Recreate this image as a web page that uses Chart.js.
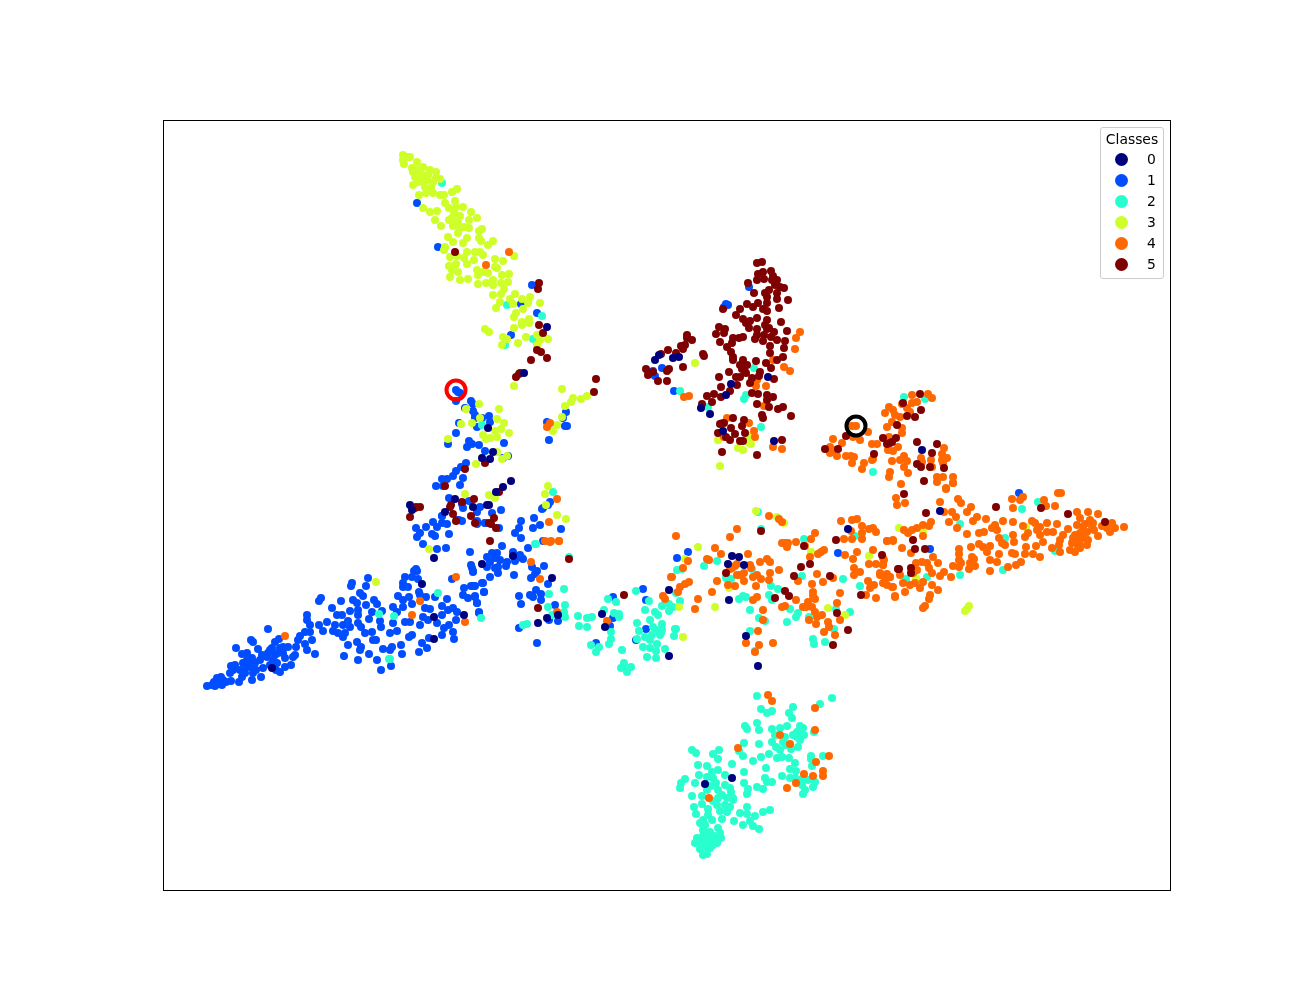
<!DOCTYPE html>
<html>
<head>
<meta charset="utf-8">
<title>Classes scatter</title>
<script src="https://cdn.jsdelivr.net/npm/chart.js@4/dist/chart.umd.min.js"></script>
<style>
    body { margin: 0; background: #fff; font-family: "DejaVu Sans", sans-serif; }
    #wrap { position: relative; width: 1300px; height: 1000px; }
    #legend {
        position: absolute; left: 1100px; top: 127px; width: 62px; height: 150px;
        background: rgba(255, 255, 255, 0.8); border: 1px solid #ccc; border-radius: 3px;
        font-size: 13.9px; color: #000;
    }
    #legend .title { position: absolute; left: 0; width: 100%; top: 3px; text-align: center; }
    #legend .row { position: absolute; left: 0; width: 100%; height: 21px; line-height: 21px; }
    #legend .dot { position: absolute; left: 14px; top: 4px; width: 13px; height: 13px; border-radius: 50%; }
    #legend .lab { position: absolute; left: 46px; top: 0; }
</style>
</head>
<body>
<div id="wrap">
    <canvas id="chart" width="1300" height="1000"></canvas>
    <div id="legend"><div class="title">Classes</div></div>
</div>
<script>
// Values, one list of [x, y] per class
const class0 = [[422,584],[434,617],[464,615],[434,639],[272,668],[434,558],[482,564],[410,505],[412,510],[473,507],[445,512],[487,505],[524,373],[488,428],[493,452],[482,458],[490,459],[511,481],[503,487],[496,492],[455,499],[489,505],[513,556],[552,578],[538,623],[547,618],[558,615],[602,614],[605,627],[669,590],[669,656],[547,327],[659,355],[655,360],[673,358],[679,357],[768,377],[731,384],[726,395],[701,408],[710,414],[723,431],[774,441],[922,450],[940,511],[848,529],[732,556],[739,557],[728,564],[744,565],[729,600],[746,636],[758,666],[705,784],[732,778]];

const class1 = [[207,686],[212,685],[214,682],[217,678],[221,677],[223,680],[222,685],[215,686],[218,683],[231,681],[230,673],[231,666],[235,665],[233,670],[239,682],[242,677],[240,670],[245,673],[252,680],[253,673],[261,677],[243,663],[247,660],[242,654],[247,653],[252,658],[236,648],[253,642],[251,640],[258,649],[255,663],[260,660],[263,668],[267,657],[270,650],[272,648],[268,653],[275,642],[279,639],[268,629],[283,647],[288,647],[278,653],[283,653],[273,660],[277,663],[285,658],[291,665],[280,672],[276,670],[285,667],[296,647],[295,655],[293,657],[300,636],[298,640],[305,644],[307,650],[315,654],[312,640],[310,632],[305,632],[310,625],[307,620],[307,615],[319,625],[323,631],[327,622],[332,608],[337,615],[342,615],[335,625],[343,625],[348,621],[350,611],[358,610],[358,615],[369,619],[358,623],[350,627],[361,627],[333,631],[338,633],[343,637],[345,633],[348,645],[357,642],[361,647],[360,650],[344,656],[358,660],[369,654],[377,660],[383,649],[390,650],[392,647],[401,645],[402,654],[391,666],[381,670],[419,652],[422,643],[427,648],[429,638],[442,635],[444,628],[449,625],[453,632],[454,639],[409,637],[412,635],[390,633],[397,631],[393,623],[405,622],[410,622],[420,625],[423,617],[428,620],[437,623],[442,615],[448,610],[453,608],[457,612],[456,620],[425,608],[430,609],[442,606],[447,599],[435,597],[426,597],[419,592],[420,595],[409,597],[403,600],[398,596],[403,607],[412,604],[393,607],[397,612],[382,611],[380,621],[381,627],[372,632],[365,633],[373,640],[376,640],[341,601],[353,600],[357,603],[321,598],[319,601],[352,583],[351,586],[366,586],[368,578],[360,593],[363,596],[374,600],[377,604],[366,605],[372,612],[403,583],[405,577],[412,577],[417,571],[414,571],[418,579],[403,587],[408,587],[452,579],[464,588],[463,595],[468,598],[473,586],[475,586],[483,583],[484,592],[475,596],[477,603],[479,613],[471,565],[473,571],[470,552],[446,548],[437,549],[433,522],[426,527],[416,528],[420,533],[417,537],[432,534],[435,536],[449,534],[423,544],[437,527],[442,523],[447,524],[442,516],[457,520],[462,521],[477,523],[485,523],[248,663],[250,667],[256,670],[246,667],[262,655],[275,655],[280,648],[270,665],[217,684],[226,682],
[456,390],[458,392],[460,393],[456,401],[471,401],[473,404],[465,408],[473,411],[475,415],[475,418],[482,418],[489,416],[490,422],[477,427],[459,423],[456,433],[448,444],[469,441],[472,444],[467,447],[479,445],[504,443],[485,451],[503,458],[508,456],[466,463],[461,467],[456,471],[453,476],[463,478],[442,479],[447,479],[436,486],[443,486],[460,485],[449,498],[469,501],[462,504],[480,507],[477,512],[463,508],[501,510],[492,513],[442,516],[459,520],[477,521],[477,524],[485,523],[499,528],[521,521],[519,528],[515,533],[521,538],[534,518],[533,528],[540,525],[561,529],[528,548],[543,541],[502,546],[513,552],[487,557],[492,553],[497,553],[495,558],[500,560],[490,562],[507,562],[515,561],[523,559],[487,567],[498,567],[532,567],[544,566],[416,569],[566,412],[563,418],[547,422],[565,426],[567,426],[549,440],[550,502],[548,505],[543,508],[542,509],
[520,555],[522,558],[498,573],[490,577],[506,566],[514,575],[495,568],[537,571],[535,574],[531,578],[548,584],[473,572],[472,568],[482,583],[474,586],[471,586],[484,592],[475,597],[477,603],[479,612],[519,596],[521,604],[536,590],[530,595],[533,597],[541,594],[541,600],[555,605],[549,620],[558,621],[519,628],[537,643],[677,558],[688,552],[643,589],[613,597],[646,600],[646,629],[596,643],[613,618],[610,626],[636,640],[417,203],[438,247],[532,285],[521,304],[537,313],[511,335],[749,287],[726,304],[724,307],[728,305],[653,371],[662,368],[655,376],[674,391],[838,553],[1019,493],[930,549]];

const class2 = [[757,696],[832,698],[820,704],[761,709],[767,713],[772,711],[793,707],[789,713],[792,718],[745,726],[747,729],[757,723],[759,730],[772,729],[780,728],[787,726],[800,726],[803,728],[797,732],[814,732],[775,735],[785,737],[797,737],[804,735],[800,740],[744,743],[759,744],[772,742],[776,747],[798,747],[692,750],[696,753],[719,750],[713,754],[718,759],[739,751],[743,756],[761,757],[769,754],[753,761],[780,750],[782,757],[777,758],[789,758],[811,756],[811,759],[823,756],[795,763],[812,766],[698,765],[707,766],[732,764],[718,770],[766,768],[790,769],[796,771],[712,772],[699,775],[707,777],[713,778],[725,775],[744,772],[782,776],[765,778],[790,778],[795,778],[802,779],[808,780],[685,779],[681,783],[695,783],[680,788],[725,785],[730,788],[744,783],[772,782],[767,782],[757,787],[763,789],[748,789],[747,794],[815,782],[813,787],[802,785],[805,790],[803,794],[718,790],[731,792],[692,796],[702,796],[733,798],[727,798],[713,801],[733,800],[702,804],[725,805],[717,805],[694,807],[747,807],[708,809],[730,807],[720,811],[727,812],[696,814],[770,810],[763,812],[740,813],[747,814],[708,815],[755,816],[722,819],[734,821],[703,820],[700,823],[705,825],[703,830],[743,825],[750,821],[753,826],[759,829],[718,828],[710,832],[720,833],[721,838],[697,838],[712,842],[717,843],[695,843],[702,842],[705,847],[710,848],[700,849],[703,855],[707,854],[713,845],[708,838],[703,836],[714,836],[700,844],[708,844],[712,820],[718,798],[722,795],[711,786],[716,783],[707,790],[786,745],[791,749],[783,742],[793,735],[801,733],
[536,544],[569,557],[481,618],[523,625],[527,624],[549,594],[564,589],[548,607],[565,605],[564,612],[565,617],[552,615],[578,616],[587,618],[592,617],[579,626],[587,627],[608,599],[616,602],[604,610],[614,613],[619,614],[619,617],[611,632],[611,639],[609,644],[599,647],[591,645],[596,652],[622,650],[624,663],[631,667],[621,668],[627,672],[623,667],[636,591],[649,601],[645,610],[655,612],[658,615],[650,620],[637,623],[662,624],[639,631],[653,627],[657,630],[662,630],[652,635],[660,635],[645,637],[650,640],[637,639],[675,629],[674,636],[643,647],[650,648],[657,644],[656,651],[665,649],[647,657],[656,658],[662,606],[669,611],[669,604],[673,607],[676,593],[680,601],[677,570],[682,569],
[758,512],[761,529],[804,539],[855,536],[717,561],[704,566],[726,578],[731,579],[752,569],[802,576],[843,579],[860,586],[771,586],[778,589],[739,599],[743,596],[746,597],[769,595],[772,600],[790,609],[750,610],[798,613],[796,617],[759,618],[765,621],[809,617],[787,622],[836,609],[850,612],[676,629],[661,633],[750,631],[813,639],[814,644],[825,642],[834,629],[755,651],[904,397],[925,399],[873,472],[1022,509],[1038,502],[960,524],[1005,538],[1055,551],[1003,570],[906,579],[927,577],[960,575],[442,183],[507,305],[542,316],[533,339],[505,345],[754,368],[680,391],[746,395],[744,399],[708,407],[761,427],[379,614],[394,616],[438,593],[389,659],[390,659],[482,425],[553,492],[535,544]];

const class3 = [[403,155],[407,157],[410,157],[403,160],[404,164],[417,162],[413,172],[418,170],[423,167],[430,170],[436,172],[415,177],[422,175],[428,175],[413,185],[423,182],[433,182],[425,187],[440,179],[419,195],[433,193],[440,195],[444,195],[457,189],[452,192],[423,208],[430,212],[437,211],[445,203],[455,201],[449,208],[463,207],[454,213],[471,212],[449,220],[460,216],[435,220],[441,226],[469,220],[477,218],[453,226],[458,222],[460,228],[464,227],[469,228],[482,229],[479,231],[448,237],[453,242],[458,233],[467,238],[463,243],[479,238],[481,241],[493,241],[488,245],[445,247],[444,250],[467,252],[450,257],[457,256],[464,258],[475,252],[480,252],[483,255],[474,260],[495,259],[503,261],[514,256],[449,266],[456,264],[452,270],[467,264],[458,272],[477,270],[478,275],[450,277],[460,280],[468,279],[483,272],[495,267],[488,273],[502,275],[509,274],[478,284],[486,283],[493,280],[508,282],[493,285],[504,289],[501,294],[493,295],[515,294],[510,299],[522,299],[530,297],[500,302],[496,308],[513,304],[528,303],[540,303],[523,309],[516,313],[514,317],[522,322],[522,325],[529,319],[529,323],[514,328],[485,329],[489,332],[503,337],[507,339],[526,337],[548,339],[502,345],[518,343],[537,335],[540,340],[537,345],[538,350],[412,168],[420,180],[427,180],[436,178],[418,182],[426,193],[431,188],[456,207],[452,218],[497,268],[501,283],
[514,386],[562,389],[573,398],[571,402],[565,406],[581,399],[587,396],[557,425],[553,431],[562,417],[479,404],[466,409],[499,409],[480,418],[497,419],[504,423],[472,423],[461,424],[495,431],[501,429],[509,433],[483,435],[486,439],[490,438],[497,437],[448,439],[497,452],[502,459],[507,456],[476,464],[465,494],[489,495],[495,498],[548,486],[545,494],[546,505],[557,515],[566,519],[429,549],[376,582],[685,559],[698,547],[679,607],[683,637],[695,363],[749,436],[718,440],[749,443],[751,444],[738,448],[743,450],[720,466],[756,511],[777,517],[784,523],[729,588],[715,607],[811,552],[828,608],[845,615],[869,556],[899,528],[923,531],[1026,527],[916,578],[969,606],[967,609],[965,611]];

const class4 = [[676,536],[730,537],[737,529],[769,516],[782,522],[779,519],[715,548],[721,554],[707,559],[709,560],[688,561],[683,568],[672,577],[689,582],[685,584],[680,587],[678,592],[663,596],[665,599],[698,599],[695,609],[712,592],[717,581],[728,585],[735,586],[730,569],[732,568],[737,564],[735,566],[748,554],[760,562],[767,559],[770,562],[750,565],[751,568],[737,575],[740,575],[744,573],[744,581],[753,577],[757,575],[761,579],[756,586],[770,573],[779,570],[769,580],[798,581],[812,584],[817,574],[823,582],[833,578],[757,597],[753,600],[763,610],[763,620],[758,631],[759,645],[746,643],[755,652],[773,643],[782,607],[785,606],[796,600],[803,607],[806,607],[808,602],[813,592],[813,596],[815,599],[812,607],[815,612],[822,615],[817,617],[809,620],[816,624],[828,622],[829,627],[824,632],[835,635],[840,620],[837,603],[840,593],[782,543],[785,543],[788,543],[787,547],[796,542],[805,546],[811,539],[815,533],[810,557],[818,554],[821,552],[824,550],[841,521],[852,520],[857,519],[851,531],[862,526],[862,533],[869,529],[873,528],[876,532],[844,539],[852,539],[862,539],[887,541],[893,541],[845,555],[857,552],[853,559],[873,550],[883,558],[869,564],[876,564],[883,565],[854,568],[860,572],[854,575],[880,573],[887,574],[890,577],[900,575],[868,581],[874,585],[870,588],[883,583],[887,585],[893,587],[866,595],[876,598],[895,597],
[901,484],[896,498],[905,503],[897,505],[940,502],[946,489],[953,483],[958,499],[961,503],[952,512],[944,512],[956,517],[971,507],[967,512],[977,517],[973,521],[986,519],[949,522],[957,528],[967,534],[979,533],[984,532],[995,525],[992,528],[997,530],[1003,521],[1013,522],[1012,499],[1013,508],[1020,500],[1023,497],[1044,500],[1046,506],[1055,506],[1058,493],[1061,493],[1032,521],[1023,526],[1035,523],[1040,527],[1047,523],[1057,524],[1068,529],[1077,512],[1080,518],[1088,512],[1098,514],[1090,520],[1077,525],[1083,527],[1093,523],[1112,523],[1124,527],[1107,528],[1115,528],[1110,532],[1098,536],[1094,530],[1087,532],[1080,533],[1075,535],[1088,540],[1083,538],[1077,540],[1072,543],[1080,545],[1087,545],[1070,550],[1075,552],[1080,548],[1060,540],[1063,535],[1053,532],[1047,532],[1037,530],[1040,535],[1043,542],[1025,537],[1028,533],[1036,546],[1026,547],[1025,554],[1033,554],[1040,557],[1052,548],[1059,545],[1060,552],[1013,535],[1014,542],[999,538],[1002,543],[1005,545],[979,544],[983,547],[990,546],[987,552],[999,554],[990,560],[997,562],[1012,553],[1015,554],[1021,562],[1016,565],[1008,567],[990,571],[971,547],[959,549],[959,554],[959,560],[972,557],[974,559],[970,563],[975,566],[969,569],[953,566],[959,567],[961,563],[951,577],[940,576],[944,572],[938,563],[933,557],[931,522],[929,526],[923,525],[917,528],[912,530],[908,533],[904,530],[923,536],[887,541],[893,540],[902,548],[911,553],[916,563],[922,562],[927,563],[929,568],[932,573],[932,585],[938,590],[930,595],[929,599],[925,606],[923,608],[895,596],[903,583],[905,592],[910,585],[915,583],[920,588],[923,582],[913,573],[917,570],[885,577],[890,577],[885,583],[892,587],[880,575],[884,560],[883,565],[1085,524],[1092,527],[1102,526],[1073,538],[1084,533],[1078,546],
[912,395],[932,398],[928,394],[902,404],[912,403],[907,408],[917,402],[889,407],[893,410],[885,413],[895,415],[900,417],[910,412],[892,422],[887,427],[902,428],[902,433],[856,426],[852,426],[868,432],[853,437],[860,440],[833,439],[842,443],[830,447],[833,450],[830,453],[837,456],[846,456],[851,456],[854,457],[852,463],[862,469],[864,463],[872,460],[873,459],[872,444],[877,444],[889,437],[888,450],[893,451],[898,447],[892,461],[900,460],[904,456],[907,461],[904,467],[908,473],[890,472],[889,477],[921,458],[922,462],[931,460],[932,467],[944,448],[942,454],[947,458],[942,460],[943,463],[937,477],[943,477],[937,482],[953,477],[953,483],[946,488],
[800,332],[796,338],[795,349],[773,360],[784,367],[790,371],[757,380],[756,386],[766,386],[764,406],[684,397],[689,396],[727,418],[749,423],[722,423],[754,431],[755,437],[724,437],[773,447],[782,449],[531,562],[540,579],[557,612],[607,621],[671,577],[550,542],[559,541],[547,427],[550,423],[557,499],[549,522],[545,541],[551,541],[559,541],[285,636],[456,577],[420,601],[412,615],[465,622],[509,252],[486,265],[768,695],[772,701],[815,708],[815,730],[780,735],[790,744],[738,748],[816,762],[829,756],[823,771],[823,776],[813,776],[804,774],[796,783],[787,788],[709,798]];

const class5 = [[539,283],[538,289],[455,252],[539,325],[543,333],[537,350],[541,352],[547,358],[531,360],[520,373],[516,377],[596,379],[594,392],[519,374],[485,463],[465,469],[499,492],[445,486],[416,507],[420,507],[410,517],[451,505],[450,507],[453,514],[474,499],[462,502],[471,516],[494,518],[475,523],[491,524],[496,528],[490,541],[569,559],[415,508],[456,521],[489,523],[538,608],[624,595],
[757,263],[762,262],[758,274],[763,272],[771,271],[773,276],[757,280],[764,279],[772,280],[777,280],[748,283],[775,285],[780,287],[784,288],[769,290],[765,293],[777,293],[754,293],[767,297],[777,299],[788,300],[758,303],[747,304],[753,307],[767,303],[779,308],[763,309],[767,311],[740,309],[736,315],[723,309],[743,319],[757,318],[750,321],[767,320],[746,323],[765,325],[781,322],[749,328],[757,329],[767,329],[769,328],[774,332],[787,331],[719,327],[725,329],[716,334],[724,333],[757,335],[764,335],[771,337],[755,339],[743,337],[739,338],[733,338],[732,343],[720,342],[763,341],[777,340],[785,341],[770,346],[784,348],[727,347],[731,352],[770,353],[733,357],[733,360],[783,357],[777,360],[687,335],[692,340],[687,338],[685,345],[681,346],[683,349],[668,350],[676,353],[703,354],[704,356],[661,354],[743,360],[740,365],[747,365],[742,369],[745,372],[756,361],[766,363],[771,368],[683,367],[760,372],[669,369],[667,371],[646,369],[653,372],[648,375],[658,381],[667,381],[729,372],[719,377],[736,377],[740,377],[746,373],[759,376],[752,378],[750,383],[774,379],[721,387],[737,385],[730,391],[714,394],[707,396],[721,397],[752,393],[758,394],[767,395],[773,397],[767,400],[757,404],[769,407],[712,402],[702,404],[778,409],[783,407],[791,416],[762,415],[763,418],[733,418],[744,420],[720,424],[724,423],[731,428],[742,426],[735,434],[718,433],[730,440],[726,437],[745,433],[740,441],[743,441],[782,440],[722,452],[757,455],
[920,394],[921,410],[915,417],[907,416],[903,403],[897,425],[846,436],[883,438],[896,438],[892,442],[887,444],[890,443],[825,449],[838,449],[874,454],[917,442],[937,444],[932,453],[944,468],[917,464],[921,467],[930,467],[924,481],[904,494],[926,513],[761,531],[836,540],[804,546],[882,555],[810,564],[801,567],[726,573],[794,576],[830,576],[785,591],[789,596],[775,598],[861,595],[837,613],[848,630],[833,645],[898,569],[996,507],[1041,508],[1068,514],[1105,522],[913,540],[915,549],[925,549],[899,569],[911,568],[911,573]];

const classNames = ['0', '1', '2', '3', '4', '5'];
const classValues = [class0, class1, class2, class3, class4, class5];
const classColors = ['#00007f', '#004dff', '#29ffce', '#ceff29', '#ff6800', '#7f0000'];
// navy last so it sits on top, blue first
const classOrder = [1, 6, 5, 4, 3, 2];

// The two marked samples
const markRed = [[456, 390]];
const markBlack = [[856, 426]];

const datasets = classValues.map((vals, i) => ({
    label: classNames[i],
    data: vals.map(p => ({ x: p[0], y: p[1] })),
    backgroundColor: classColors[i],
    borderWidth: 0,
    pointRadius: 4,
    order: classOrder[i]
}));
[[markRed, 'red'], [markBlack, 'black']].forEach(m => {
    datasets.push({
        label: 'mark',
        data: m[0].map(p => ({ x: p[0], y: p[1] })),
        backgroundColor: 'transparent',
        borderColor: m[1],
        borderWidth: 4,
        pointRadius: 9.5,
        order: 0
    });
});

const frame = {
    id: 'frame',
    afterDraw(chart) {
        const a = chart.chartArea;
        const c = chart.ctx;
        c.save();
        c.strokeStyle = '#000';
        c.lineWidth = 1;
        c.strokeRect(a.left, a.top, a.right - a.left, a.bottom - a.top);
        c.restore();
    }
};

new Chart(document.getElementById('chart'), {
    type: 'scatter',
    data: { datasets: datasets },
    options: {
        responsive: false,
        animation: false,
        layout: { padding: { left: 163.5, right: 129.5, top: 120.5, bottom: 109.5 } },
        plugins: { legend: { display: false }, tooltip: { enabled: false } },
        scales: {
            x: { display: false, min: 163.5, max: 1170.5 },
            y: { display: false, min: 120.5, max: 890.5, reverse: true }
        }
    },
    plugins: [frame]
});

// Legend box
const legend = document.getElementById('legend');
classNames.forEach((name, i) => {
    const row = document.createElement('div');
    row.className = 'row';
    row.style.top = (21 + i * 21) + 'px';
    row.innerHTML = '<span class="dot" style="background:' + classColors[i] + '"></span><span class="lab">' + name + '</span>';
    legend.appendChild(row);
});
</script>
</body>
</html>
